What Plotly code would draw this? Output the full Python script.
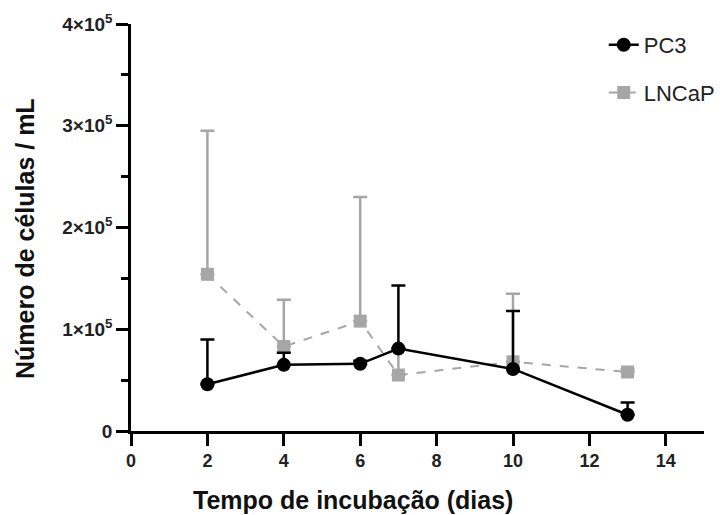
import plotly.graph_objects as go

days = [2, 4, 6, 7, 10, 13]
pc3_mean = [46000, 65000, 66000, 81000, 61000, 16000]
pc3_err = [44000, 12000, 3000, 62000, 57000, 12000]
lncap_mean = [154000, 83000, 108000, 55000, 68000, 58000]
lncap_err = [141000, 46000, 122000, 25000, 67000, 3000]

y_ticks = [0, 100000, 200000, 300000, 400000]
y_tick_labels = ["<b>0</b>", "<b>1×10<sup>5</sup></b>", "<b>2×10<sup>5</sup></b>",
                 "<b>3×10<sup>5</sup></b>", "<b>4×10<sup>5</sup></b>"]
x_ticks = [0, 2, 4, 6, 8, 10, 12, 14]
x_tick_labels = ["<b>%d</b>" % v for v in x_ticks]
x_title = "Tempo de incubação (dias)"
y_title = "Número de células / mL"

gray = "#a6a6a6"

fig = go.Figure()
fig.add_trace(go.Scatter(
    x=days, y=lncap_mean, name="LNCaP", legendgroup="b", legendrank=2,
    mode="lines+markers",
    line=dict(color=gray, width=2, dash="dash"),
    marker=dict(symbol="square", size=13, color=gray),
    error_y=dict(type="data", array=lncap_err, arrayminus=[0]*len(days),
                 color=gray, thickness=2.5, width=7),
))
fig.add_trace(go.Scatter(
    x=days, y=pc3_mean, name="PC3", legendgroup="a", legendrank=1,
    mode="lines+markers",
    line=dict(color="black", width=2.5),
    marker=dict(symbol="circle", size=14, color="black"),
    error_y=dict(type="data", array=pc3_err, arrayminus=[0]*len(days),
                 color="black", thickness=2.5, width=7),
))

fig.add_annotation(text="<b>%s</b>" % x_title, xref="paper", yref="paper",
                   x=(353 - 131) / (704 - 131), y=-(500 - 431) / (431 - 24),
                   xanchor="center", yanchor="middle", showarrow=False,
                   font=dict(size=25, color="#111"))
fig.add_annotation(text="<b>%s</b>" % y_title, xref="paper", yref="paper",
                   x=-(131 - 25) / (704 - 131), y=(431 - 239) / (431 - 24),
                   xanchor="center", yanchor="middle", showarrow=False, textangle=-90,
                   font=dict(size=25, color="#111"))

fig.update_layout(
    width=726, height=515,
    margin=dict(l=131, r=22, t=24, b=84, autoexpand=False),
    paper_bgcolor="white", plot_bgcolor="white",
    font=dict(family="Liberation Sans, Arial, sans-serif", color="black"),
    legend=dict(x=0.825, y=1.0, xanchor="left", yanchor="top",
                font=dict(size=22, color="#222"), tracegroupgap=16,
                itemwidth=30, bgcolor="rgba(0,0,0,0)"),
    xaxis=dict(range=[0, 15], tickvals=x_ticks, ticktext=x_tick_labels,
               showgrid=False, zeroline=False, automargin=False,
               showline=True, linecolor="black", linewidth=2.5,
               ticks="outside", ticklen=12, tickwidth=2.5, tickcolor="black",
               tickfont=dict(size=18, color="#222")),
    yaxis=dict(range=[0, 400000], tickvals=y_ticks, ticktext=y_tick_labels,
               showgrid=False, zeroline=False, automargin=False,
               showline=True, linecolor="black", linewidth=2.5,
               ticks="outside", ticklen=12, tickwidth=2.5, tickcolor="black",
               minor=dict(dtick=50000, ticks="outside", ticklen=7, tickwidth=2.5, tickcolor="black"),
               tickfont=dict(size=19, color="#222")),
)

fig.write_html("out.html", config={"displayModeBar": False},
               post_script="document.body.style.margin='0';")
